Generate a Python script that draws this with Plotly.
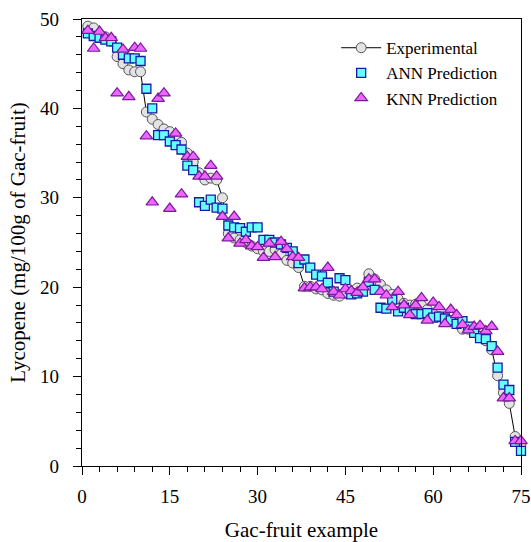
import plotly.graph_objects as go

example = list(range(1, 76))

experimental = [49.2, 49.0, 48.3, 48.0, 47.5, 45.8, 45.0, 44.3, 44.1, 44.1,
                39.6, 38.8, 38.2, 37.7, 37.4, 37.0, 36.2, 35.0, 34.0, 32.8,
                32.0, 32.2, 32.0, 30.0, 26.0, 25.5, 25.3, 25.0, 24.6, 24.3,
                24.0, 24.0, 24.2, 23.7, 23.0, 22.7, 22.2, 20.1, 20.1, 19.8,
                19.7, 19.3, 19.1, 19.0, 19.3, 19.4, 19.9, 19.8, 21.5, 20.9,
                20.3, 19.7, 19.2, 18.7, 18.2, 18.0, 18.1, 18.0, 17.5, 17.0,
                16.7, 16.3, 16.2, 15.9, 15.3, 15.3, 15.0, 14.5, 14.0, 13.0,
                10.1, 8.2, 7.0, 3.3, 2.5]

ann_pred = [48.4, 48.1, 47.9, 47.7, 47.5, 46.8, 46.0, 45.6, 45.6, 45.3,
            42.2, 40.0, 37.0, 37.0, 36.3, 35.9, 35.4, 33.6, 33.1, 29.5,
            29.1, 29.8, 28.9, 28.8, 26.9, 26.7, 26.6, 26.2, 26.7, 26.7,
            25.3, 25.3, 25.0, 24.8, 24.4, 24.0, 22.7, 23.1, 22.2, 21.4,
            21.2, 20.5, 19.5, 21.0, 20.8, 19.2, 19.3, 19.5, 20.6, 19.7,
            17.7, 17.6, 18.6, 17.3, 17.7, 17.4, 17.0, 17.0, 17.1, 16.6,
            16.7, 16.5, 16.3, 15.9, 16.2, 15.6, 14.9, 14.3, 14.2, 13.4,
            11.0, 9.1, 8.5, 2.7, 1.7]

knn_pred = [48.7, 46.7, 48.6, 47.9, 47.9, 41.7, 46.6, 41.3, 46.8, 46.7,
            36.9, 29.5, 41.1, 41.7, 28.8, 37.2, 30.4, 34.6, 34.6, 32.4,
            32.4, 33.6, 32.4, 27.9, 25.5, 27.9, 24.9, 25.3, 24.6, 24.5,
            23.3, 24.9, 23.4, 25.1, 24.3, 23.4, 23.3, 19.9, 20.0, 20.0,
            19.8, 22.2, 19.5, 19.1, 19.8, 19.6, 19.4, 20.0, 20.9, 20.9,
            19.5, 19.1, 17.8, 19.5, 18.0, 16.9, 18.0, 18.8, 16.3, 18.3,
            17.8, 15.9, 17.5, 16.9, 15.8, 15.2, 15.6, 15.7, 15.1, 15.6,
            12.8, 7.6, 7.6, 2.8, 2.8]

x_ticks = [0, 15, 30, 45, 60, 75]
y_ticks = [0, 10, 20, 30, 40, 50]

font_family = "Liberation Serif, Times New Roman, serif"

fig = go.Figure()
fig.add_trace(go.Scatter(
    x=example, y=experimental, mode="lines+markers", name="Experimental",
    line=dict(color="black", width=1),
    marker=dict(symbol="circle", size=10, color="#e3e3e3",
                line=dict(color="#555555", width=1)),
    cliponaxis=False))
fig.add_trace(go.Scatter(
    x=example, y=ann_pred, mode="markers", name="ANN Prediction",
    marker=dict(symbol="square", size=9, color="#66ffff",
                line=dict(color="#1a1aa8", width=1.3)),
    cliponaxis=False))
fig.add_trace(go.Scatter(
    x=example, y=knn_pred, mode="markers", name="KNN Prediction",
    marker=dict(symbol="triangle-up", size=11, color="#ee66ff",
                line=dict(color="#7a1a9a", width=1.2)),
    cliponaxis=False))

axis_common = dict(
    showline=True, linecolor="black", linewidth=1.2, mirror=True,
    ticks="outside", ticklen=8, tickwidth=1, tickcolor="black",
    showgrid=False, zeroline=False, automargin=False,
    tickfont=dict(family=font_family, size=19, color="black"),
)

fig.update_xaxes(
    range=[0, 75], tickvals=x_ticks, ticktext=[str(v) for v in x_ticks],
    minor=dict(dtick=3, tick0=0, ticks="outside", ticklen=5, tickcolor="black"),
    ticklabelstandoff=5,
    title=dict(text="Gac-fruit example", font=dict(family=font_family, size=21, color="black"),
               standoff=17),
    **axis_common)
fig.update_yaxes(
    range=[0, 50], tickvals=y_ticks, ticktext=[str(v) for v in y_ticks],
    minor=dict(dtick=2, tick0=0, ticks="outside", ticklen=5, tickcolor="black"),
    ticklabelstandoff=10,
    title=dict(text="Lycopene (mg/100g of Gac-fruit)",
               font=dict(family=font_family, size=21, color="black"), standoff=8),
    **axis_common)

fig.update_layout(
    width=531, height=542,
    margin=dict(l=82, r=10, t=19, b=76),
    paper_bgcolor="white", plot_bgcolor="white",
    font=dict(family=font_family, color="black"),
    legend=dict(x=0.579, y=0.975, xanchor="left", yanchor="top",
                bgcolor="rgba(0,0,0,0)", borderwidth=0,
                font=dict(family=font_family, size=17, color="black"),
                itemwidth=40, tracegroupgap=0),
    showlegend=True,
)

# remove the browser's default body margin so the figure fills the window exactly
fig.write_html("out.html",
               config={"displayModeBar": False},
               post_script="document.body.style.margin='0';document.body.style.overflow='hidden';")
